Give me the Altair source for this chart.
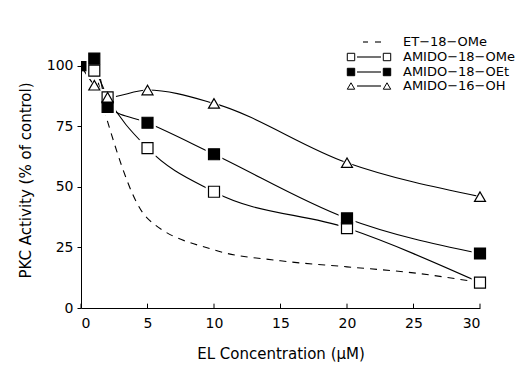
import altair as alt
import pandas as pd

# ---- data ----
conc = [0, 1, 2, 5, 10, 20, 30]
et_conc = [0, 1, 2, 5, 10, 15, 20, 25, 30]
et_vals = [100, 97, 77, 37, 24, 19.5, 17, 14.5, 10.5]
ome_vals = [100, 98, 87, 66, 48, 33, 10.5]
oet_vals = [100, 103, 83, 76.5, 63.5, 37, 22.5]
oh_vals = [100, 92, 87, 90, 84.5, 60, 46]

x_ticks = [0, 5, 10, 15, 20, 25, 30]
y_ticks = [0, 25, 50, 75, 100]

names = ["ET\u221218\u2212OMe", "AMIDO\u221218\u2212OMe", "AMIDO\u221218\u2212OEt", "AMIDO\u221216\u2212OH"]
amido = names[1:]

FONT = "DejaVu Sans"

et_df = pd.DataFrame({"conc": et_conc, "val": et_vals, "series": names[0]})
rows = []
for nm, vals in zip(amido, [ome_vals, oet_vals, oh_vals]):
    for c, v in zip(conc, vals):
        rows.append({"conc": c, "val": v, "series": nm})
am_df = pd.DataFrame(rows)
pts_df = am_df[am_df["conc"] > 0]
zero_df = am_df[(am_df["conc"] == 0) & (am_df["series"] == amido[1])]
tick_df = pd.DataFrame({"conc": x_ticks, "val": [0] * len(x_ticks), "val2": [1.8] * len(x_ticks)})

xs = alt.Scale(domain=[0, 30], nice=False, zero=False)
ys = alt.Scale(domain=[0, 102], nice=False, zero=False)

x_axis = alt.Axis(values=x_ticks, ticks=False, tickSize=0, labelPadding=8, grid=False,
                  labelFont=FONT, labelFontSize=14, labelColor="black",
                  domainColor="black", domainWidth=1,
                  title="EL Concentration (\u03bcM)", titleFont=FONT, titleFontSize=15,
                  titleFontWeight="normal", titleColor="black", titleY=45, titleBaseline="middle")
y_axis = alt.Axis(values=y_ticks, tickSize=4, labelPadding=4, grid=False,
                  labelFont=FONT, labelFontSize=14, labelColor="black",
                  domainColor="black", domainWidth=1, tickColor="black",
                  title="PKC Activity (% of control)", titleFont=FONT, titleFontSize=15,
                  titleFontWeight="normal", titleColor="black",
                  titleX=-56, titleY=119, titleBaseline="middle")

X = alt.X("conc:Q", scale=xs, axis=x_axis)
Y = alt.Y("val:Q", scale=ys, axis=y_axis)

shape_scale = alt.Scale(domain=amido, range=["square", "square", "triangle-up"])
fill_scale = alt.Scale(domain=amido, range=["white", "black", "white"])

et_line = alt.Chart(et_df).mark_line(interpolate="monotone", color="black",
                                     strokeWidth=1.1, strokeDash=[7, 6]).encode(x=X, y=Y)
am_lines = alt.Chart(am_df).mark_line(interpolate="monotone", color="black",
                                      strokeWidth=1.1).encode(x=X, y=Y, detail="series:N")
halo = alt.Chart(pts_df).mark_point(filled=True, color="white", size=280, opacity=1).encode(
    x=X, y=Y, shape=alt.Shape("series:N", scale=shape_scale, legend=None))
markers = alt.Chart(pts_df).mark_point(filled=True, stroke="black", strokeWidth=1.2,
                                       size=121, opacity=1).encode(
    x=X, y=Y,
    shape=alt.Shape("series:N", scale=shape_scale, legend=None),
    fill=alt.Fill("series:N", scale=fill_scale, legend=None))
zero_pt = alt.Chart(zero_df).mark_point(filled=True, shape="square", color="black",
                                        size=121, opacity=1, clip=True).encode(x=X, y=Y)
ticks = alt.Chart(tick_df).mark_rule(color="black", strokeWidth=1).encode(
    x=X, y=Y, y2="val2:Q")

# ---- legend drawn in the upper right (pixel positions relative to plot area) ----
leg_rows_y = [-19, -4, 11, 25]
leg_layers = []
base = alt.Chart(pd.DataFrame({"a": [0]}))
for xa, xb in [(282, 287), (294, 300)]:
    leg_layers.append(base.mark_rule(color="black", strokeWidth=1.1).encode(
        x=alt.value(xa), x2=alt.value(xb), y=alt.value(leg_rows_y[0])))
leg_shapes = ["square", "square", "triangle-up"]
leg_fills = ["white", "black", "white"]
for i in range(3):
    yy = leg_rows_y[i + 1]
    leg_layers.append(base.mark_rule(color="black", strokeWidth=1.1).encode(
        x=alt.value(276), x2=alt.value(300), y=alt.value(yy)))
    for xx in [270, 306]:
        leg_layers.append(base.mark_point(filled=True, shape=leg_shapes[i], fill=leg_fills[i],
                                          stroke="black", strokeWidth=1, size=55, opacity=1).encode(
            x=alt.value(xx), y=alt.value(yy)))
for i, nm in enumerate(names):
    leg_layers.append(base.mark_text(align="left", baseline="middle", font=FONT, fontSize=13,
                                     color="black").encode(
        x=alt.value(322), y=alt.value(leg_rows_y[i]), text=alt.value(nm)))

chart = alt.layer(et_line, am_lines, ticks, halo, markers, zero_pt, *leg_layers).properties(
    width=399, height=247,
    padding={"left": 73, "top": 53, "right": 40, "bottom": 54},
    autosize=alt.AutoSizeParams(type="none"),
    background="white",
).configure_view(stroke=None)

chart.save("out.html", embed_options={"renderer": "svg", "actions": False})
